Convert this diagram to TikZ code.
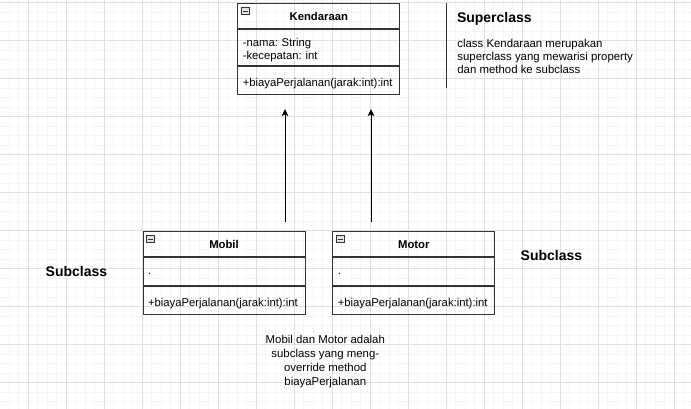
\documentclass[tikz,border=0pt]{standalone}
\usepackage{fontspec}
\setmainfont{Liberation Sans}
\frenchspacing
\usetikzlibrary{positioning,arrows.meta}
\definecolor{gridmajor}{HTML}{E0E0E0}
\definecolor{gridminor}{HTML}{F5F5F5}
\definecolor{umlline}{HTML}{333333}
\definecolor{iconfill}{HTML}{E4E4E4}
\tikzset{
  umlhead/.style={draw=umlline, line width=1pt, minimum width=162pt, minimum height=25pt,
    inner sep=0pt, text height=8.5pt, text depth=0pt, font=\bfseries\fontsize{11.3}{13.6}\selectfont},
  umlpart/.style={draw=umlline, line width=1pt, minimum width=162pt, text width=152pt,
    inner xsep=5pt, inner ysep=0pt, align=left, font=\fontsize{11.3}{12.2}\selectfont},
  umlicon/.style={draw=umlline, fill=iconfill, line width=0.7pt},
  heading/.style={inner sep=0pt, font=\bfseries\fontsize{14}{16}\selectfont},
  note/.style={inner sep=0pt, font=\fontsize{11.4}{13.1}\selectfont},
  inherit/.style={line width=1pt, -{Stealth[length=7pt,width=6.5pt,inset=1.5pt]}}
}
\begin{document}
\begin{tikzpicture}[x=1pt,y=-1pt]
\useasboundingbox (0,0) rectangle (691,409);
\fill[white] (0,0) rectangle (691,409);
\begin{scope}
\clip (0,0) rectangle (691,409);
\draw[gridminor, line width=0.6pt, shift={(28pt,-2.5pt)}, step=9.5pt] (-38pt,-420pt) grid (700pt,38pt); % Grid (minor)
\draw[gridmajor, line width=0.7pt, shift={(28pt,-2.5pt)}, step=38pt] (-38pt,-420pt) grid (700pt,38pt); % Grid (major)
\end{scope}
%% Superclass Kendaraan
\node[umlhead, anchor=north west] (kend) at (237.3,3.2) {Kendaraan};
\node[umlpart, below=0pt of kend, minimum height=36pt, text height=8pt, text depth=9.6pt] (kendattr) {-nama: String\\-kecepatan: int};
\node[umlpart, below=0pt of kendattr, minimum height=28pt, text height=12pt, text depth=0pt] (kendmethod) {+biayaPerjalanan(jarak:int):int};
%% Subclass Mobil
\node[umlhead, anchor=north west] (mobil) at (142.5,231.3) {Mobil};
\node[umlpart, below=0pt of mobil, minimum height=28pt, text height=5.5pt, text depth=0pt] (mobilattr) {.};
\node[umlpart, below=0pt of mobilattr, minimum height=28pt, text height=12pt, text depth=0pt] (mobilmethod) {+biayaPerjalanan(jarak:int):int};
%% Subclass Motor
\node[umlhead, anchor=north west] (motor) at (332.3,231.3) {Motor};
\node[umlpart, below=0pt of motor, minimum height=28pt, text height=5.5pt, text depth=0pt] (motorattr) {.};
\node[umlpart, below=0pt of motorattr, minimum height=28pt, text height=12pt, text depth=0pt] (motormethod) {+biayaPerjalanan(jarak:int):int};
%% Collapse icons
\draw[umlicon] ([shift={(4,4.5)}]kend.north west) rectangle ++(8,7); % Kendaraan
\draw[umlline, line width=0.8pt] ([shift={(5.5,8)}]kend.north west) -- ++(5,0);
\draw[umlicon] ([shift={(4,4.5)}]mobil.north west) rectangle ++(8,7); % Mobil
\draw[umlline, line width=0.8pt] ([shift={(5.5,8)}]mobil.north west) -- ++(5,0);
\draw[umlicon] ([shift={(4,4.5)}]motor.north west) rectangle ++(8,7); % Motor
\draw[umlline, line width=0.8pt] ([shift={(5.5,8)}]motor.north west) -- ++(5,0);
%% Inheritance arrows
\coordinate (mobilarrow) at (285,222);
\coordinate (mobiltip) at (285,109);
\coordinate (motorarrow) at (371,222);
\coordinate (motortip) at (371,109);
\draw[inherit] (mobilarrow) -- (mobiltip); % Mobil -> Kendaraan
\draw[inherit] (motorarrow) -- (motortip); % Motor -> Kendaraan
%% Superclass note
\coordinate (notetop) at (446.4,3.3);
\coordinate (notebottom) at (446.4,88.3);
\draw[umlline, line width=1pt] (notetop) -- (notebottom); % Separator
\node[heading, anchor=base west] (supertitle) at (456.8,22.7) {Superclass};
\node[note, align=left, anchor=north west] (superdesc) at (457.2,39) {class Kendaraan merupakan\\superclass yang mewarisi property\\dan method ke subclass};
%% Subclass labels
\node[heading, anchor=base west] (subleft) at (45.5,276.7) {Subclass};
\node[heading, anchor=base west] (subright) at (520.5,260.3) {Subclass};
%% Override note
\node[note, align=center, anchor=north, font=\fontsize{11.4}{13.9}\selectfont] (overridenote) at (325.3,335) {Mobil dan Motor adalah\\subclass yang meng-\\override method\\biayaPerjalanan};
\end{tikzpicture}
\end{document}
